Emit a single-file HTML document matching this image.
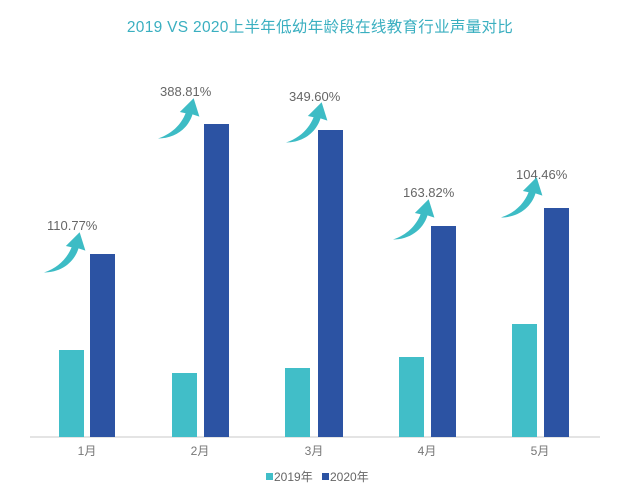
<!DOCTYPE html>
<html><head><meta charset="utf-8"><style>
body{margin:0;background:#fff;}
svg{display:block;font-family:"Liberation Sans","Noto Sans CJK SC",sans-serif;}
</style></head><body>
<svg width="640" height="495" viewBox="0 0 640 495">
<defs>
<g id="arr" transform="scale(1.15)">
<path d="M0,30 C12,26 20,18 24,8 L19,7 L31,-5 L36,11 L30,9 C26,22 14,30 0,30 Z" fill="#3dbcc5"/>
</g>
</defs>
<text x="320" y="32" text-anchor="middle" font-size="15.5" fill="#3aafc0" letter-spacing="0.3">2019 VS 2020上半年低幼年龄段在线教育行业声量对比</text>
<line x1="30" y1="437" x2="600" y2="437" stroke="#dcdcdc" stroke-width="1.5"/>
<g fill="#41bec8">
<rect x="59" y="350" width="25" height="87"/>
<rect x="172" y="373" width="25" height="64"/>
<rect x="285" y="368" width="25" height="69"/>
<rect x="399" y="357" width="25" height="80"/>
<rect x="512" y="324" width="25" height="113"/>
</g>
<g fill="#2c53a3">
<rect x="90" y="254" width="25" height="183"/>
<rect x="204" y="124" width="25" height="313"/>
<rect x="318" y="130" width="25" height="307"/>
<rect x="431" y="226" width="25" height="211"/>
<rect x="544" y="208" width="25" height="229"/>
</g>
<g font-size="13" fill="#666">
<text x="47" y="230">110.77%</text>
<text x="160" y="96">388.81%</text>
<text x="289" y="101">349.60%</text>
<text x="403" y="197">163.82%</text>
<text x="516" y="179">104.46%</text>
</g>
<use href="#arr" x="44" y="238"/>
<use href="#arr" x="158" y="104"/>
<use href="#arr" x="286" y="108"/>
<use href="#arr" x="393" y="205"/>
<use href="#arr" x="501" y="183"/>
<g font-size="12" fill="#777" text-anchor="middle">
<text x="87" y="455">1月</text>
<text x="200" y="455">2月</text>
<text x="314" y="455">3月</text>
<text x="427" y="455">4月</text>
<text x="540" y="455">5月</text>
</g>
<rect x="266" y="473" width="7" height="7" fill="#41bec8"/>
<text x="274" y="481" font-size="12" fill="#666">2019年</text>
<rect x="322" y="473" width="7" height="7" fill="#2c53a3"/>
<text x="330" y="481" font-size="12" fill="#666">2020年</text>
</svg>
</body></html>
